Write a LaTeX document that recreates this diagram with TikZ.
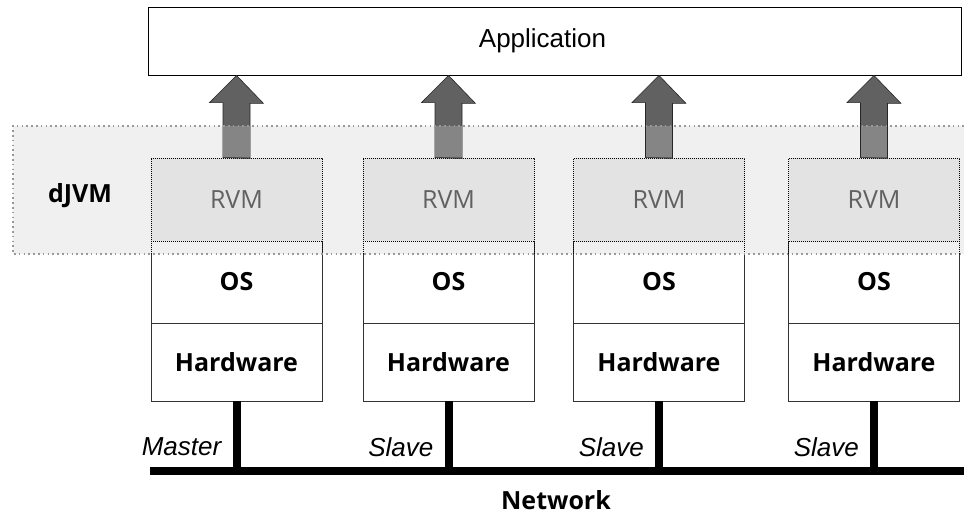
\documentclass[tikz,border=0pt]{standalone}
\usepackage{fontspec}
\usetikzlibrary{calc}
\setmainfont{Liberation Sans}
\newfontfamily\osans{Open Sans}
\begin{document}
\begin{tikzpicture}[x=1bp,y=-1bp,
  appbox/.style={draw=black,line width=0.9bp,fill=white,minimum width=813bp,minimum height=68bp,inner sep=0pt,font=\fontsize{26bp}{30bp}\selectfont},
  rvmbox/.style={draw=black,line width=0.8bp,dash pattern=on 0.9bp off 1.1bp,fill=gray!22,minimum width=171bp,minimum height=83bp,inner sep=0pt,text=black!62,font=\osans\fontsize{25bp}{30bp}\selectfont},
  osbox/.style={draw=black!80,line width=0.8bp,fill=white,minimum width=171bp,minimum height=82bp,inner sep=0pt,font=\osans\bfseries\fontsize{25bp}{30bp}\selectfont},
  hwbox/.style={draw=black!80,line width=0.8bp,fill=white,minimum width=171bp,minimum height=78bp,inner sep=0pt,font=\osans\bfseries\fontsize{25bp}{30bp}\selectfont},
  boldlbl/.style={inner sep=0pt,font=\osans\bfseries\fontsize{25bp}{30bp}\selectfont},
  rolelbl/.style={inner sep=0pt,anchor=east,font=\itshape\fontsize{26bp}{30bp}\selectfont},
  dotline/.style={draw=gray!80,line width=1.6bp,dash pattern=on 1.6bp off 3.2bp},
  fineline/.style={draw=black,line width=0.8bp,dash pattern=on 0.9bp off 1.1bp},
  drop/.style={line width=8bp,draw=black},
  bigarrow/.style={fill=black!62,draw=black!85,line width=0.6bp}
]
\useasboundingbox (0,0) rectangle (964,514);
% dJVM background
\fill[gray!12] (13,126) rectangle (964,254);
% application
\node[appbox] (app) at (554.5,41) {\raisebox{-2bp}{Application}\hspace*{24bp}};
% columns
\foreach \i/\cx/\lbl in {1/236.5/Master,2/448.5/Slave,3/659/Slave,4/874/Slave}{
  \node[osbox] (os\i) at (\cx,282) {\raisebox{-2.5bp}{OS}};
  \fill[gray!12] (\cx-85.5,241) rectangle (\cx+85.5,254);
  \draw[fineline] (\cx-85.5,241) -- (\cx-85.5,254) (\cx+85.5,241) -- (\cx+85.5,254);
  \node[hwbox] (hw\i) at (\cx,362) {Hardware};
  \node[rvmbox] (rvm\i) at (\cx,199.5) {\raisebox{-2bp}{RVM}};
  % block arrow from RVM to application
  \path[bigarrow] (rvm\i.north) ++(-13.5,0) -- ++(0,-55) -- ++(-13.5,0) -- (rvm\i.north |- app.south) -- ++(27,28) -- ++(-13.5,0) -- ++(0,55) -- cycle;
  \fill[black!48] ($(rvm\i.north)+(-13.2,-0.5)$) rectangle ($(rvm\i.north)+(13.2,-32)$);
  \coordinate (bus\i) at (\cx,471);
  \draw[drop] (hw\i.south) -- (bus\i);
  \node[rolelbl] (role\i) at (\cx-15,447) {\lbl};
}
% dJVM dotted border
\draw[dotline] (964,126) -- (13,126) -- (13,254) -- (964,254);
\node[boldlbl] (djvm) at (80,196) {dJVM};
% network bus
\coordinate (netL) at (150,471);
\coordinate (netR) at (964,471);
\draw[line width=8bp] (netL) -- (netR);
\node[boldlbl] (net) at (556,500) {Network};
\end{tikzpicture}
\end{document}
